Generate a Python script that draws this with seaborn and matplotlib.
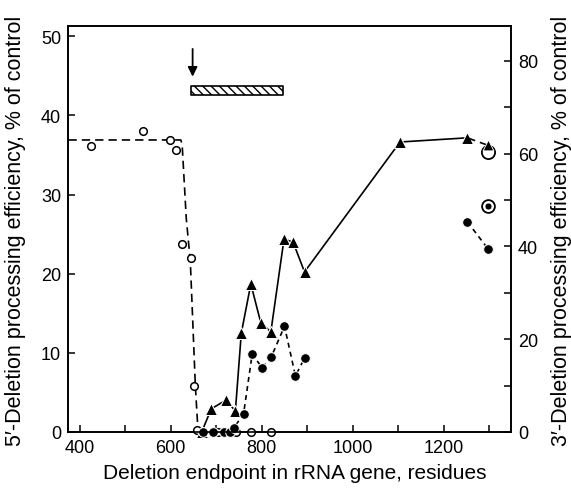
import matplotlib
matplotlib.use('Agg')
import matplotlib.pyplot as plt
from matplotlib.ticker import MultipleLocator
import seaborn as sns

# 5'-deletions, open circles (left axis)
del5_x = [424, 539, 598, 612, 625, 645, 651, 658, 704, 744, 777, 821]
del5_y = [36.2, 38.0, 36.9, 35.6, 23.7, 22.0, 5.8, 0.3, 0, 0, 0, 0]
# dashed curve drawn through the 5' data
fit5_x = [375, 622, 625, 634, 643, 654, 660]
fit5_y = [36.9, 36.9, 36.3, 27.0, 21.5, 5.8, 0.0]

# 3'-deletions, filled triangles (right axis)
tri_x = [668, 689, 722, 742, 755, 776, 798, 820, 849, 869, 894, 1104, 1252]
tri_y = [0, 5.0, 6.9, 4.5, 21.3, 31.9, 23.5, 21.6, 41.6, 40.9, 34.5, 62.5, 63.4]
tri_end_x = [1252, 1297]
tri_end_y = [63.4, 61.8]

# 3'-deletions, filled circles (right axis)
circ_x = [670, 693, 716, 731, 738, 760, 779, 801, 821, 850, 874, 894]
circ_y = [0, 0, 0, 0, 0.8, 3.9, 16.8, 13.8, 16.2, 22.8, 12.1, 15.9]
circ_end_x = [1252, 1298]
circ_end_y = [45.3, 39.4]

# special symbols at the right edge (right axis)
ring_x = [1298]
ring_y = [60.3]
bullseye_x = [1298]
bullseye_y = [48.7]

# hatched bar and arrow (left axis units)
bar_x = [645, 846]
bar_y = [42.55, 43.7]
arrow_x = 648
arrow_y = [48.4, 44.9]

sns.set_style('ticks')
plt.rcParams['font.family'] = ['Liberation Sans', 'DejaVu Sans']
plt.rcParams['hatch.linewidth'] = 1.0
for key in ['text.color', 'axes.labelcolor', 'xtick.color', 'ytick.color', 'axes.edgecolor']:
    plt.rcParams[key] = 'black'

fig = plt.figure(figsize=(5.71, 4.89), dpi=100)
ax = fig.add_axes([68/571, 56/489, (511-68)/571, (433-27)/489])
ax2 = ax.twinx()

lw = 1.2
# 5' data
sns.lineplot(x=fit5_x, y=fit5_y, ax=ax, color='black', lw=lw,
             linestyle=(0, (5, 3)), sort=False, estimator=None)
sns.scatterplot(x=del5_x, y=del5_y, ax=ax, marker='o', s=30,
                facecolor='white', edgecolor='black', linewidth=1.1, zorder=5,
                clip_on=False)

# 3' triangles
sns.lineplot(x=tri_x, y=tri_y, ax=ax2, color='black', lw=lw, sort=False,
             estimator=None, marker='^', markersize=9, clip_on=False)
sns.lineplot(x=tri_end_x, y=tri_end_y, ax=ax2, color='black', lw=lw, sort=False,
             estimator=None, linestyle=(0, (5, 3)))
# 3' filled circles
sns.lineplot(x=circ_x, y=circ_y, ax=ax2, color='black', lw=lw, sort=False,
             estimator=None, linestyle=(0, (3, 2.5)), marker='o', markersize=7,
             clip_on=False)
sns.lineplot(x=circ_end_x, y=circ_end_y, ax=ax2, color='black', lw=lw, sort=False,
             estimator=None, linestyle=(0, (3, 2.5)), marker='o', markersize=7)
sns.scatterplot(x=ring_x, y=ring_y, ax=ax2, marker='o', s=90, facecolor='white',
                edgecolor='black', linewidth=1.3, zorder=4)
sns.scatterplot(x=tri_end_x[-1:], y=tri_end_y[-1:], ax=ax2, marker='^', s=60,
                color='black', zorder=6)
sns.scatterplot(x=bullseye_x, y=bullseye_y, ax=ax2, marker='o', s=85, facecolor='white',
                edgecolor='black', linewidth=1.3, zorder=4)
sns.scatterplot(x=bullseye_x, y=bullseye_y, ax=ax2, marker='o', s=24,
                color='black', zorder=6)

# hatched bar and arrow
ax.fill_between(bar_x, bar_y[0], bar_y[1], facecolor='white', edgecolor='black',
                hatch='\\\\\\\\', linewidth=1.2)
ax.annotate('', xy=(arrow_x, arrow_y[1]), xytext=(arrow_x, arrow_y[0]),
            arrowprops=dict(arrowstyle='-|>', color='black', lw=1.3,
                            mutation_scale=14, shrinkA=0, shrinkB=0))

ax.set_xlim(374, 1348)
ax.set_ylim(0, 51.3)
ax2.set_ylim(0, 87.5)

ax.xaxis.set_major_locator(MultipleLocator(200))
ax.xaxis.set_minor_locator(MultipleLocator(100))
ax.yaxis.set_major_locator(MultipleLocator(10))
ax2.yaxis.set_major_locator(MultipleLocator(20))
ax2.yaxis.set_minor_locator(MultipleLocator(10))

for a in (ax, ax2):
    a.tick_params(which='both', direction='in', length=5, width=1.1,
                  labelsize=13, pad=5, top=False)
    for sp in a.spines.values():
        sp.set_linewidth(1.2)
        sp.set_visible(True)
ax.tick_params(which='both', right=False)
ax2.tick_params(which='both', left=False, bottom=False)

ax.set_xlabel('Deletion endpoint in rRNA gene, residues', fontsize=15)
ax.set_ylabel('5\u2032-Deletion processing efficiency, % of control', fontsize=15.5)
ax2.set_ylabel('3\u2032-Deletion processing efficiency, % of control', fontsize=15.5,
               rotation=90)
# place axis titles in figure pixel positions
ax.xaxis.set_label_coords((295-68)/443, -(464-433)/406)
ax.yaxis.set_label_coords((26-68)/443, 0.497)
ax2.yaxis.set_label_coords((551-68)/443, 0.497)

fig.savefig('out.png', dpi=100)
